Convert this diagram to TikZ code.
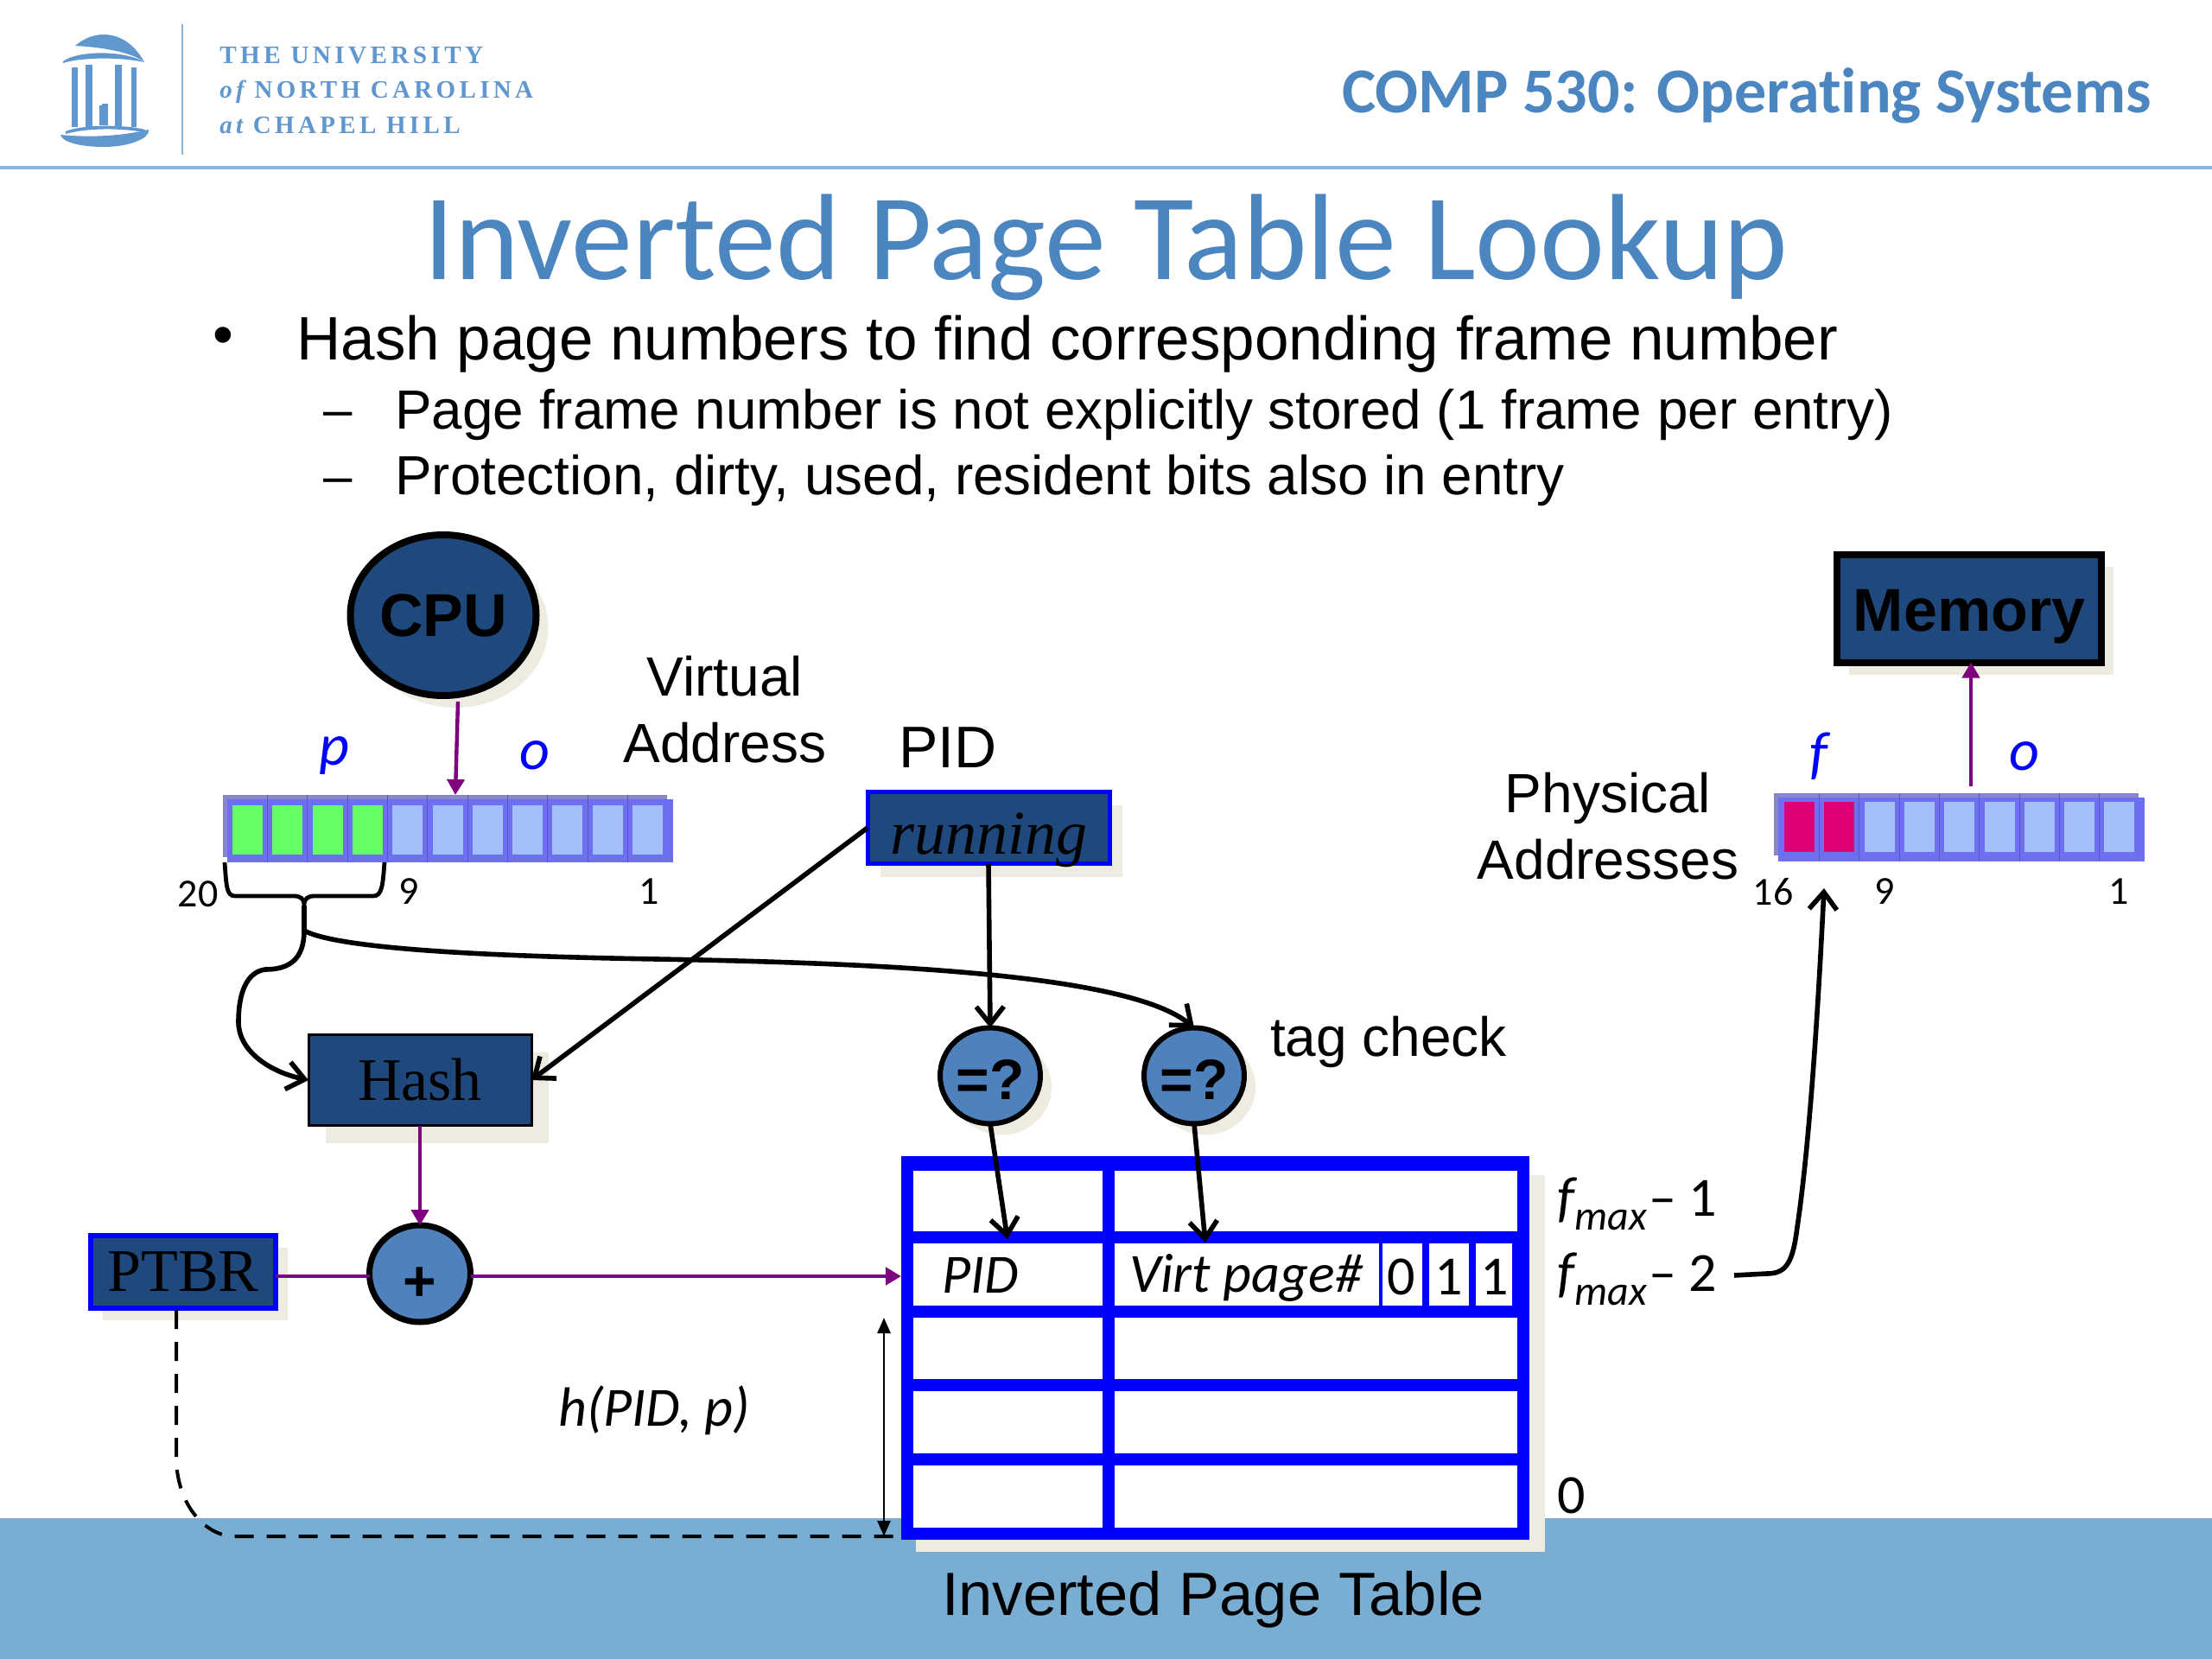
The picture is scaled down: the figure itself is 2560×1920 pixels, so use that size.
\documentclass[tikz,border=0pt]{standalone}
\usepackage{fontspec}
\usetikzlibrary{arrows.meta,shadows,calc,shapes.geometric}
\setmainfont{Liberation Sans}
\newfontfamily\carlito[Ligatures=NoCommon]{Carlito}
\newfontfamily\tserif{Liberation Serif}
\newfontfamily\logofont[LetterSpace=15]{Liberation Serif}
\newcommand\fs[1]{\fontsize{#1}{#1}\selectfont}
\newcommand\lowered[2]{\raisebox{-#1}[0pt][0pt]{#2}}
\definecolor{navy}{HTML}{1F497D}
\definecolor{steel}{HTML}{4F81BD}
\definecolor{shadowc}{HTML}{EEECE1}
\definecolor{band}{HTML}{7AADD2}
\definecolor{titlec}{HTML}{4B86C1}
\definecolor{logoc}{HTML}{5F97CE}
\definecolor{rule}{HTML}{86B4DC}
\definecolor{pur}{HTML}{7F007F}
\definecolor{pureblue}{HTML}{0000FF}
\definecolor{regbody}{HTML}{6E6EF2}
\definecolor{regtop}{HTML}{8686C8}
\definecolor{reggap}{HTML}{5858B8}
\definecolor{cellb}{HTML}{A2BFFB}
\definecolor{cellg}{HTML}{66FF66}
\definecolor{cellm}{HTML}{DE0077}
\tikzset{
  x=0.5pt,y=-0.5pt,
  lbl/.style={inner sep=0pt,outer sep=0pt,font=\fs{32}},
  twoline/.style={inner sep=0pt,outer sep=0pt,align=center,font=\fontsize{32}{38.4}\selectfont},
  clbl/.style={inner sep=0pt,outer sep=0pt,font=\carlito\fs{23}},
  ital/.style={inner sep=0pt,outer sep=0pt,font=\carlito\itshape\fs{32}},
  varl/.style={ital,text=pureblue,font=\carlito\itshape\fs{34}},
  shad/.style={drop shadow={shadow xshift=#1,shadow yshift=-#1,fill=shadowc,opacity=1}},
  darkbox/.style={rectangle,fill=navy,inner sep=0pt,outer sep=0pt},
  tcirc/.style={ellipse,draw=black,fill=steel,line width=3pt,inner sep=0pt,outer sep=0pt,minimum width=58pt,minimum height=55.5pt},
  cellnode/.style={rectangle,inner sep=0pt,outer sep=0pt,minimum width=17.5pt,minimum height=#1},
  blk/.style={black,line width=2.8pt,-{Straight Barb[length=10pt,width=16pt,line width=2.8pt]}},
  plain/.style={black,line width=2.8pt},
  purarrow/.style={pur,line width=2.2pt,-{Triangle[length=9pt,width=10pt]}},
  thinarrow/.style={black,line width=1.3pt,{Triangle[length=9pt,width=7.5pt]}-{Triangle[length=9pt,width=7.5pt]}},
  tline/.style={pureblue,line width=7pt},
}
\newcommand\fmax[1]{{\itshape f}\raisebox{-0.25em}{\fs{24}\itshape max}\kern1pt{\fs{32}– #1}}
\begin{document}
\begin{tikzpicture}
\useasboundingbox (0,0) rectangle (2560,1920);
\fill[white] (0,0) rectangle (2560,1920);
% bottom band
\fill[band] (0,1757) rectangle (2560,1920);
% header
\draw[rule,line width=2.2pt] (0,194) -- (2560,194);
\draw[rule,line width=1.1pt] (211,28) -- (211,179);
% logo
\begin{scope}[logoc]
\fill (87,53) .. controls (100,42) and (112,40) .. (120,40) .. controls (142,40) and (158,55) .. (167,72) .. controls (155,62) and (125,55) .. (87,53) -- cycle;
\fill (73,71) .. controls (90,58) and (145,58) .. (167,72) .. controls (140,66) and (95,66) .. (73,73) -- cycle;
\fill (83,78) rectangle (90,147);
\fill (99,75) rectangle (107,149);
\fill (133,75) rectangle (141,149);
\fill (152,78) rectangle (158,147);
\fill (115,122) rectangle (125,145);
\fill (118,120) rectangle (125,125);
\fill (76,152) .. controls (95,144) and (145,144) .. (168,150) -- (166,153) .. controls (140,148) and (100,148) .. (76,155) -- cycle;
\fill (70,156) .. controls (90,158) and (130,160) .. (172,150) .. controls (174,160) and (150,170) .. (120,170) .. controls (95,170) and (72,165) .. (70,156) -- cycle;
\end{scope}
\node[anchor=base west,inner sep=0pt,text=logoc,font=\logofont\bfseries\fs{14.6}] (uni1) at (254,74) {THE UNIVERSITY};
\node[anchor=base west,inner sep=0pt,text=logoc,font=\logofont\bfseries\fs{14.5}] (uni2) at (254,114) {{\itshape of} NORTH CAROLINA};
\node[anchor=base west,inner sep=0pt,text=logoc,font=\logofont\bfseries\fs{14.5}] (uni3) at (254,155) {{\itshape at} CHAPEL HILL};
\node[anchor=base east,inner sep=0pt,text=titlec,font=\carlito\bfseries\fs{37}] (course) at (2490,131) {COMP 530: Operating Systems};
\node[anchor=base,inner sep=0pt,text=titlec,font=\carlito\fs{71}] (title) at (1280,324) {Inverted Page Table Lookup};
% bullets
\node[anchor=center,inner sep=0pt,font=\fs{34}] (b0) at (258,395) {•};
\node[anchor=base west,inner sep=0pt,font=\fs{35.5}] (b1) at (343,417) {Hash page numbers to find corresponding frame number};
\node[anchor=center,inner sep=0pt,font=\fs{30}] (d1) at (391,486) {–};
\node[anchor=base west,inner sep=0pt,font=\fs{31.9}] (b2) at (457,496) {Page frame number is not explicitly stored (1 frame per entry)};
\node[anchor=center,inner sep=0pt,font=\fs{30}] (d2) at (391,563) {–};
\node[anchor=base west,inner sep=0pt,font=\fs{31.9}] (b3) at (457,573) {Protection, dirty, used, resident bits also in entry};
% CPU
\node[tcirc,fill=navy,shad=7pt,minimum width=107.5pt,minimum height=93pt,line width=4pt,font=\bfseries\fs{35}] (cpu) at (513,712) {CPU};
\node[twoline] (va) at (839,821) {Virtual\\Address};
\node[varl] (p) at (387,875) {p};
\node[varl] (o1) at (619,874) {o};
% virtual register
\fill[regtop] (258,920) rectangle (772,992);
\fill[regbody] (263,925) rectangle (779,998);
\coordinate (vreg) at (527,920);
\foreach \i in {0,...,10}{
  \pgfmathsetmacro\cx{286.5+46.3*\i}
  \pgfmathsetmacro\gx{\cx+23.15}
  \ifnum\i<10 \draw[reggap,line width=0.5pt] (\gx,920) -- (\gx,998); \fi
  \ifnum\i<4
    \node[cellnode=28.5pt,fill=cellg] (v\i) at (\cx,960.5) {};
  \else
    \node[cellnode=28.5pt,fill=cellb] (v\i) at (\cx,960.5) {};
  \fi
}
\draw[purarrow] (530,812) -- (vreg);
\node[clbl] (n20) at (229,1035) {20};
\node[clbl] (n9) at (473,1032) {9};
\node[clbl] (n1) at (751,1032) {1};
% brace + splits
\coordinate (bl) at (260,998);
\coordinate (br) at (445,998);
\coordinate (split) at (352,1077);
\draw[plain,line width=2.4pt] (bl) .. controls (262,1025) and (262,1037) .. (272,1037) -- (340,1037) .. controls (348,1037) and (352,1040) .. (352,1048) .. controls (352,1040) and (356,1037) .. (364,1037) -- (432,1037) .. controls (442,1037) and (443,1025) .. (br);
\draw[plain] (352,1048) -- (split);
% PID/running
\node[lbl,font=\fs{34}] (pid) at (1097,865) {PID};
\node[darkbox,draw=pureblue,line width=2.5pt,shad=7.5pt,minimum width=140pt,minimum height=41.5pt,font=\tserif\itshape\fs{36}] (running) at (1144,958) {\lowered{15pt}{running}};
% hash
\node[darkbox,draw=black,line width=1.5pt,shad=10pt,minimum width=129pt,minimum height=52.5pt,font=\tserif\fs{35}] (hash) at (486,1250) {Hash};
% eq circles
\node[tcirc,shad=6.5pt,font=\bfseries\fs{33}] (q1) at (1146,1245) {\lowered{13.5pt}{=?}};
\node[tcirc,shad=6.5pt,font=\bfseries\fs{33}] (q2) at (1382,1245) {\lowered{13.5pt}{=?}};
\node[lbl] (tag) at (1607,1206) {tag check};
\draw[blk] (split) .. controls (352,1110) and (335,1122) .. (307,1122) .. controls (285,1125) and (276,1150) .. (276,1183) .. controls (276,1215) and (310,1240) .. (hash.west);
\draw[blk] (split) .. controls (385,1095) and (520,1106) .. (760,1110) .. controls (1050,1115) and (1310,1130) .. (q2.north);
\draw[blk] (running.west) -- (hash.east);
\draw[blk] (running.south) -- (q1.north);
% table
\fill[shadowc] (1060,1782) rectangle (1788,1796);
\fill[shadowc] (1769,1360) rectangle (1788,1796);
\fill[white] (1043,1338) rectangle (1769,1782);
\draw[tline,line width=8.5pt] (1043,1346) -- (1769,1346);
\foreach \y in {1432,1518,1603,1689,1775}
  \draw[tline] (1043,\y) -- (1769,\y);
\foreach \x in {1050,1283,1763}
  \draw[tline] (\x,1338) -- (\x,1782);
\draw[pureblue,line width=2pt] (1598,1439) -- (1598,1511);
\foreach \x in {1650,1704,1754}
  \draw[pureblue,line width=4pt] (\x,1439) -- (\x,1511);
\node[ital] (tpid) at (1135,1476) {PID};
\node[ital] (tvirt) at (1442,1479) {Virt page\#};
\node[ital,font=\carlito\fs{32}] (d0) at (1622,1478) {0};
\node[ital,font=\carlito\fs{32}] (d11) at (1677,1478) {1};
\node[ital,font=\carlito\fs{32}] (d12) at (1730,1478) {1};
\coordinate (t1) at (1166,1434);
\coordinate (t2) at (1395,1438);
\draw[blk] (q1.south) -- (t1);
\draw[blk] (q2.south) -- (t2);
% fmax
\node[lbl,font=\carlito\fs{32.5}] (f1) at (1895,1393) {\fmax{1}};
\node[lbl,font=\carlito\fs{32.5}] (f2) at (1895,1480) {\fmax{2}};
\node[lbl,font=\carlito\fs{32}] (f0) at (1819,1731) {0};
% PTBR + plus
\node[darkbox,draw=pureblue,line width=3pt,shad=7pt,minimum width=107pt,minimum height=42pt,font=\tserif\fs{35}] (ptbr) at (212,1472) {PTBR};
\node[tcirc,minimum width=58.5pt,minimum height=56pt,line width=3.5pt,font=\bfseries\fs{33}] (plus) at (486,1474) {\lowered{15.5pt}{+}};
\coordinate (tblin) at (1043,1477);
\draw[pur,line width=2.2pt] (ptbr.east|-tblin) -- (plus.west|-tblin);
\draw[purarrow] (plus.east|-tblin) -- (tblin);
\draw[purarrow] (hash.south) -- (plus.north);
% dashed + h
\coordinate (dstart) at (204,1516);
\coordinate (dend) at (1043,1778);
\draw[black,line width=2pt,dash pattern=on 11pt off 7.5pt] (dstart) -- (204,1690) .. controls (206,1745) and (240,1778) .. (271,1778) -- (dend);
\coordinate (ha) at (1023,1525);
\coordinate (hb) at (1023,1778);
\draw[thinarrow] (ha) -- (hb);
\node[ital] (hl) at (757,1632) {h(PID, p)};
% caption
\node[lbl,font=\fs{35.3}] (cap) at (1404,1851) {Inverted Page Table};
% memory
\node[darkbox,draw=black,line width=4pt,shad=7pt,minimum width=153pt,minimum height=62.5pt,font=\bfseries\fs{35}] (mem) at (2279,704) {\lowered{13pt}{Memory}};
\node[twoline] (pa) at (1861,956) {Physical\\Addresses};
\node[varl] (f) at (2105,875) {f};
\node[varl] (o2) at (2343,875) {o};
\fill[regtop] (2053,918) rectangle (2475,990);
\fill[regbody] (2058,923) rectangle (2482,997);
\foreach \i in {0,...,8}{
  \pgfmathsetmacro\cx{2082.5+46.3*\i}
  \pgfmathsetmacro\gx{\cx+23.15}
  \ifnum\i<8 \draw[reggap,line width=0.5pt] (\gx,918) -- (\gx,997); \fi
  \ifnum\i<2
    \node[cellnode=29pt,fill=cellm] (r\i) at (\cx,957) {};
  \else
    \node[cellnode=29pt,fill=cellb] (r\i) at (\cx,957) {};
  \fi
}
\coordinate (pout) at (2281,910);
\draw[purarrow] (pout) -- (mem.south-|pout);
\node[clbl] (n16) at (2052,1032) {16};
\node[clbl] (n9b) at (2181,1032) {9};
\node[clbl] (n1b) at (2452,1032) {1};
\coordinate (pin) at (2111,1028);
\coordinate (fout) at (2007,1476);
\draw[blk] (fout) -- (2045,1474) .. controls (2068,1474) and (2075,1460) .. (2080,1420) .. controls (2095,1320) and (2105,1150) .. (pin);
\end{tikzpicture}
\end{document}
